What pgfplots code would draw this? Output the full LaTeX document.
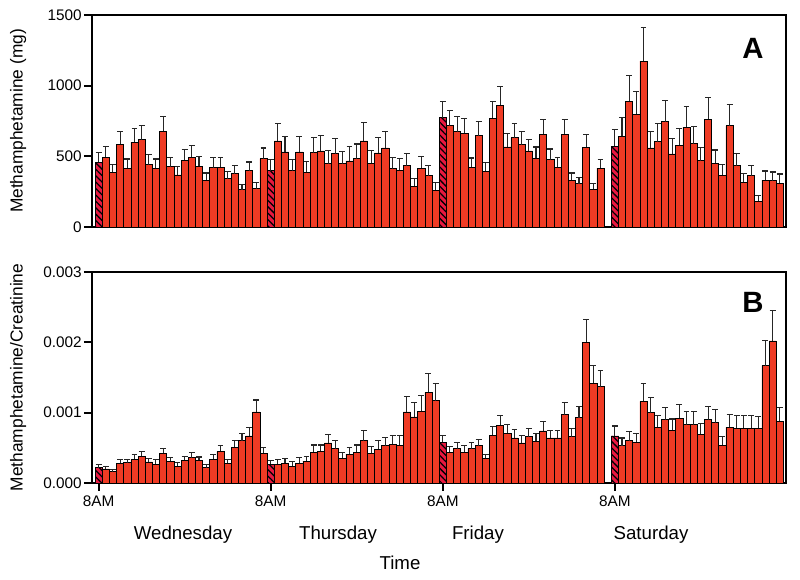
\documentclass[border=0pt]{standalone}
\usepackage{pgfplots}
\pgfplotsset{compat=1.18}
\usepackage{pgfplotstable}
\usetikzlibrary{patterns.meta}
\usepackage{fontspec}
\setmainfont{Liberation Sans}
\definecolor{barred}{RGB}{239,59,36}
\definecolor{hatchred}{RGB}{232,24,64}

\pgfplotstableread{
i v e
1 495 76
2 386 55
3 585 92
4 417 64
5 600 100
6 618 97
7 441 71
8 417 64
9 678 107
10 427 66
11 368 59
12 474 76
13 495 81
14 431 69
15 332 50
16 419 71
17 424 69
18 341 50
19 377 59
20 263 36
21 398 62
22 272 40
23 483 76
25 609 126
26 531 111
27 398 78
28 531 111
29 386 78
30 526 107
31 538 111
32 448 90
33 519 107
34 448 85
35 467 102
36 483 104
37 609 128
38 450 88
39 524 107
40 559 118
41 412 83
42 400 83
43 434 88
44 289 52
45 415 83
46 363 73
47 261 52
49 716 109
50 675 104
51 664 104
52 422 66
53 647 102
54 396 62
55 770 116
56 860 137
57 567 92
58 633 102
59 583 95
60 538 83
61 488 78
62 657 104
63 476 76
64 422 69
65 657 104
66 332 50
67 306 47
68 564 92
69 268 43
70 417 62
73 642 130
74 891 182
75 796 164
76 1173 239
77 559 116
78 604 126
79 746 149
80 517 111
81 578 121
82 706 145
83 590 121
84 469 95
85 761 154
86 450 95
87 367 73
88 716 149
89 434 88
90 315 64
91 363 71
92 183 38
93 332 64
94 327 62
95 311 64
}\dataA
\pgfplotstableread{
i v e
0 457 71
24 398 78
48 773 114
72 571 118
}\hatchA
\pgfplotstableread{
i v e
1 0.00020 0.00003
2 0.00016 0.00003
3 0.00028 0.00005
4 0.00029 0.00005
5 0.00034 0.00006
6 0.00038 0.00007
7 0.00030 0.00005
8 0.00027 0.00006
9 0.00042 0.00007
10 0.00031 0.00005
11 0.00024 0.00005
12 0.00032 0.00006
13 0.00036 0.00007
14 0.00032 0.00005
15 0.00022 0.00004
16 0.00034 0.00006
17 0.00045 0.00008
18 0.00028 0.00006
19 0.00051 0.00009
20 0.00060 0.00010
21 0.00067 0.00012
22 0.00101 0.00017
23 0.00042 0.00008
25 0.00027 0.00006
26 0.00028 0.00007
27 0.00024 0.00006
28 0.00028 0.00008
29 0.00031 0.00007
30 0.00044 0.00010
31 0.00045 0.00009
32 0.00057 0.00012
33 0.00049 0.00012
34 0.00035 0.00008
35 0.00041 0.00010
36 0.00044 0.00010
37 0.00060 0.00014
38 0.00042 0.00010
39 0.00048 0.00012
40 0.00053 0.00012
41 0.00055 0.00012
42 0.00054 0.00013
43 0.00101 0.00022
44 0.00094 0.00020
45 0.00102 0.00022
46 0.00129 0.00027
47 0.00117 0.00025
49 0.00044 0.00008
50 0.00049 0.00008
51 0.00044 0.00009
52 0.00049 0.00009
53 0.00053 0.00009
54 0.00035 0.00006
55 0.00068 0.00012
56 0.00082 0.00014
57 0.00071 0.00012
58 0.00064 0.00012
59 0.00057 0.00010
60 0.00066 0.00011
61 0.00059 0.00011
62 0.00074 0.00013
63 0.00064 0.00010
64 0.00064 0.00011
65 0.00097 0.00017
66 0.00066 0.00011
67 0.00093 0.00016
68 0.00200 0.00033
69 0.00142 0.00025
70 0.00137 0.00023
73 0.00053 0.00011
74 0.00060 0.00013
75 0.00058 0.00013
76 0.00116 0.00025
77 0.00100 0.00021
78 0.00079 0.00017
79 0.00090 0.00018
80 0.00075 0.00016
81 0.00092 0.00020
82 0.00083 0.00018
83 0.00083 0.00018
84 0.00069 0.00015
85 0.00090 0.00019
86 0.00086 0.00018
87 0.00054 0.00012
88 0.00079 0.00018
89 0.00078 0.00018
90 0.00078 0.00018
91 0.00078 0.00018
92 0.00078 0.00017
93 0.00167 0.00036
94 0.00202 0.00043
95 0.00088 0.00019
}\dataB
\pgfplotstableread{
i v e
0 0.00022 0.00004
24 0.00027 0.00005
48 0.00058 0.00010
72 0.00067 0.00014
}\hatchB

\pgfplotsset{
  panel/.style={
    scale only axis, width=520.5pt,
    xmin=-0.92, xmax=95.87, ymin=0,
    axis line style={line width=2.2pt, black},
    tick style={line width=1.6pt, black},
    tick align=outside, major tick length=6pt,
    ytick pos=left, xtick pos=bottom,
    tick label style={font=\fontsize{11.5}{13}\selectfont},
    y tick label style={inner sep=1.5pt},
    /pgf/number format/assume math mode=true,
    scaled y ticks=false,
    every axis y label/.style={at={(axis description cs:-0.1066,0.5)}, rotate=90, anchor=center, font=\fontsize{13}{15}\selectfont},
  },
  mybar/.style={ybar, bar width=1, bar shift=0pt, fill=barred, draw=black, line width=0.5pt,
    error bars/.cd, y dir=plus, y explicit,
    error bar style={line width=0.8pt, black!85},
    error mark options={rotate=90, line width=0.8pt, mark size=2.2pt, black!85}},
  myhatch/.style={ybar, bar width=1, bar shift=0pt, fill=hatchred, draw=black, line width=0.5pt,
    postaction={pattern={Lines[angle=-45,distance=3.4pt,line width=0.95pt]}, pattern color=black},
    error bars/.cd, y dir=plus, y explicit,
    error bar style={line width=0.8pt, black!85},
    error mark options={rotate=90, line width=0.8pt, mark size=2.2pt, black!85}},
}

\begin{document}
\begin{tikzpicture}
\path (0pt,0pt) rectangle (600pt,-435pt);
\begin{axis}[panel, at={(69pt,-11.25pt)}, anchor=north west, height=159pt,
  ymax=1500, ytick={0,500,1000,1500}, yticklabels={0,500,1000,1500},
  xtick=\empty,
  ylabel={Methamphetamine (mg)}]
\addplot[mybar] table[x=i, y=v, y error=e] {\dataA};
\addplot[myhatch] table[x=i, y=v, y error=e] {\hatchA};
\end{axis}
\begin{axis}[panel, at={(69pt,-204pt)}, anchor=north west, height=158.25pt,
  ymax=0.003, ytick={0,0.001,0.002,0.003}, yticklabels={0.000,0.001,0.002,0.003},
  xtick={0,24,48,72}, xticklabels={8AM,8AM,8AM,8AM},
  ylabel={Methamphetamine/Creatinine}]
\addplot[mybar] table[x=i, y=v, y error=e] {\dataB};
\addplot[myhatch] table[x=i, y=v, y error=e] {\hatchB};
\end{axis}
\node[font=\fontsize{22}{26}\selectfont\bfseries] at (564.75pt,-36pt) {A};
\node[font=\fontsize{22}{26}\selectfont\bfseries] at (564.75pt,-226.5pt) {B};
\node[font=\fontsize{14}{16}\selectfont] at (137.25pt,-401.25pt) {Wednesday};
\node[font=\fontsize{14}{16}\selectfont] at (253.5pt,-401.25pt) {Thursday};
\node[font=\fontsize{14}{16}\selectfont] at (358.5pt,-401.25pt) {Friday};
\node[font=\fontsize{14}{16}\selectfont] at (488.25pt,-401.25pt) {Saturday};
\node[font=\fontsize{14}{16}\selectfont] at (300pt,-422.25pt) {Time};
\end{tikzpicture}
\end{document}
